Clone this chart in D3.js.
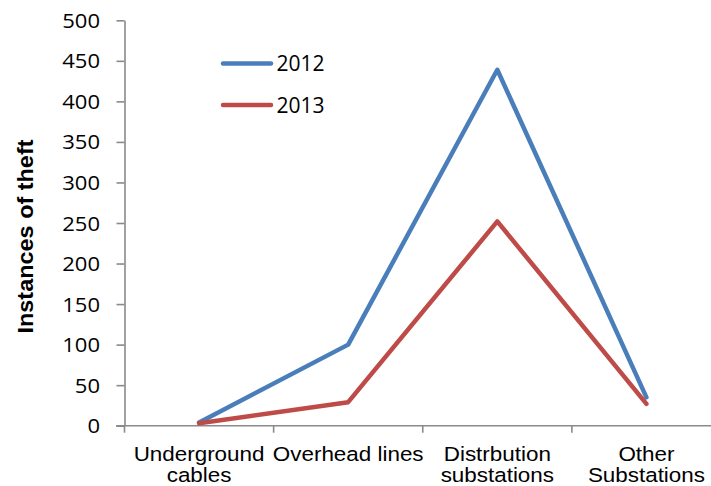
<!DOCTYPE html>
<html>
<head>
<meta charset="utf-8">
<script src="https://cdn.jsdelivr.net/npm/d3@7"></script>
<style>
  html, body { margin: 0; padding: 0; background: #fff; }
  svg { display: block; }
</style>
</head>
<body>
<svg id="chart" width="711" height="486"></svg>
<script>
// Categories (each label split into its display lines)
const categories = ["Underground cables", "Overhead lines", "Distrbution substations", "Other Substations"];
const categoryLines = [["Underground", "cables"], ["Overhead lines"], ["Distrbution", "substations"], ["Other", "Substations"]];

// Series values
const seriesNames = ["2012", "2013"];
const values2012 = [4, 100, 439, 35];
const values2013 = [3, 29, 252, 27];

// Y axis tick values
const yTicks = [0, 50, 100, 150, 200, 250, 300, 350, 400, 450, 500];

const colors = { "2012": "#4a7ebb", "2013": "#be4b48" };
const series = [
  { name: seriesNames[0], values: values2012 },
  { name: seriesNames[1], values: values2013 }
];

const svg = d3.select("#chart");
const axisColor = "#8a8a8a";
const textStretch = 1.13;

const x = d3.scaleBand().domain(categories).range([124.5, 721]).padding(0);
const y = d3.scaleLinear().domain([0, 500]).range([425.7, 20.3]);

// Y axis
const yAxis = svg.append("g")
  .attr("transform", "translate(124.5,0)")
  .call(d3.axisLeft(y).tickValues(yTicks).tickSize(8).tickSizeOuter(0));
yAxis.select(".domain").attr("stroke", axisColor).attr("stroke-width", 1.6);
yAxis.selectAll(".tick line").attr("stroke", axisColor).attr("stroke-width", 1.6);
yAxis.selectAll(".tick text")
  .attr("x", 0)
  .attr("dy", "0.36em")
  .attr("transform", `translate(-24.5,0) scale(${textStretch},1)`)
  .attr("text-anchor", "end")
  .attr("fill", "#000")
  .style("font-family", "'Open Sans', sans-serif")
  .style("font-size", "19.5px");

// X axis: line with tick marks at category boundaries
const xAxis = svg.append("g").attr("transform", `translate(0,${y(0)})`);
xAxis.append("line")
  .attr("x1", 116).attr("x2", 711)
  .attr("stroke", axisColor).attr("stroke-width", 1.6);
const boundaries = categories.map(c => x(c)).concat([x.range()[1]]);
xAxis.selectAll("line.tick")
  .data(boundaries)
  .join("line")
  .attr("class", "tick")
  .attr("x1", d => d).attr("x2", d => d)
  .attr("y1", 0).attr("y2", 7)
  .attr("stroke", axisColor).attr("stroke-width", 1.6);

// Category labels
const catGroups = svg.append("g").selectAll("g")
  .data(categories)
  .join("g")
  .attr("transform", d => `translate(${x(d) + x.bandwidth() / 2},0) scale(1.15,1)`);
catGroups.each(function(d, i) {
  const g = d3.select(this);
  categoryLines[i].forEach((line, j) => {
    g.append("text")
      .attr("x", 0)
      .attr("y", 461 + j * 21)
      .attr("text-anchor", "middle")
      .attr("fill", "#000")
      .style("font-family", "'Liberation Sans', Arial, sans-serif")
      .style("font-size", "19.5px")
      .text(line);
  });
});

// Y axis title
svg.append("text")
  .attr("transform", "translate(32.5,236.5) rotate(-90)")
  .attr("text-anchor", "middle")
  .attr("fill", "#000")
  .style("font-family", "'Liberation Sans', Arial, sans-serif")
  .style("font-weight", "bold")
  .style("font-size", "22px")
  .attr("textLength", 194)
  .attr("lengthAdjust", "spacingAndGlyphs")
  .text("Instances of theft");

// Series lines
const line = d3.line()
  .x((d, i) => x(categories[i]) + x.bandwidth() / 2)
  .y(d => y(d));

svg.append("g").selectAll("path")
  .data(series)
  .join("path")
  .attr("d", d => line(d.values))
  .attr("fill", "none")
  .attr("stroke", d => colors[d.name])
  .attr("stroke-width", 4.5)
  .attr("stroke-linejoin", "round")
  .attr("stroke-linecap", "round");

// Legend
const legend = svg.append("g").selectAll("g")
  .data(series)
  .join("g")
  .attr("transform", (d, i) => `translate(0,${63.5 + i * 41.5})`);
legend.append("line")
  .attr("x1", 223).attr("x2", 271)
  .attr("stroke", d => colors[d.name])
  .attr("stroke-width", 4.5)
  .attr("stroke-linecap", "round");
legend.append("text")
  .attr("x", 276.5)
  .attr("y", 0)
  .attr("dy", "0.36em")
  .attr("fill", "#000")
  .style("font-family", "'Open Sans', sans-serif")
  .style("font-size", "21px")
  .text(d => d.name);
</script>
</body>
</html>
